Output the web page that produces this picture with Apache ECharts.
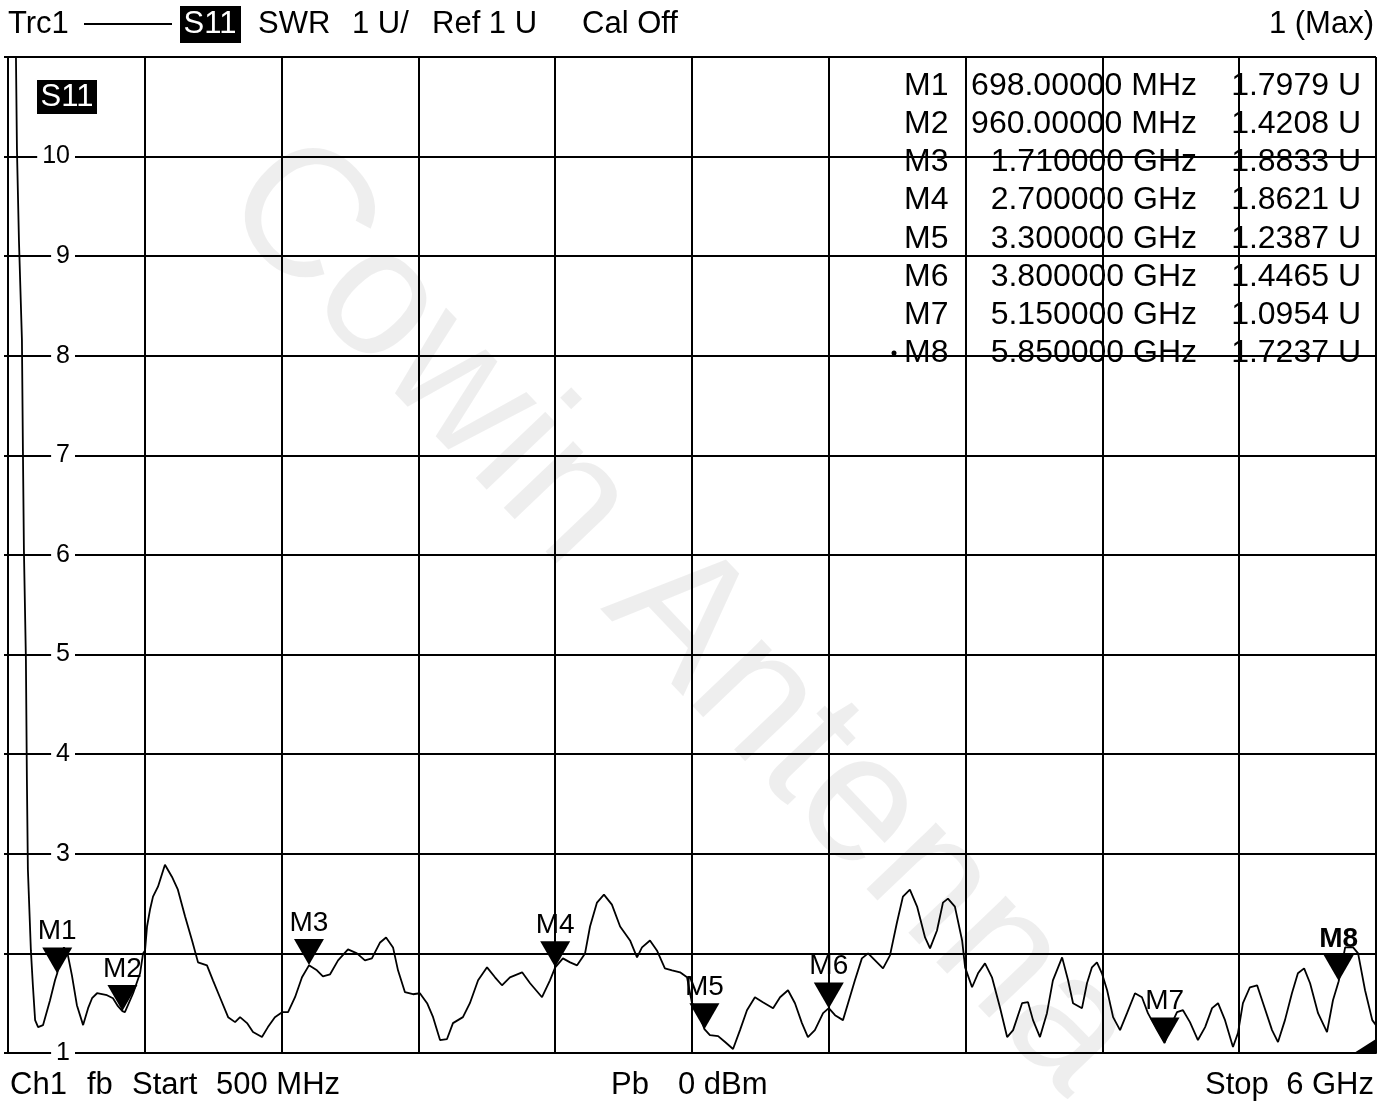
<!DOCTYPE html>
<html>
<head>
<meta charset="utf-8">
<title>S11 SWR</title>
<script src="https://cdn.jsdelivr.net/npm/echarts@6/dist/echarts.min.js"></script>
<style>
  html, body { margin: 0; padding: 0; background: #fff; }
  #chart { width: 1392px; height: 1104px; }
</style>
</head>
<body>
<div id="chart"></div>
<script>
// trace: [frequency MHz, SWR]
const s11Trace = [
  [524, 12.5], [532, 11.0], [536, 10.07], [544, 9.16], [556, 8.16], [560, 7.05], [564, 6.05], [572, 4.95],
  [576, 3.74], [580, 2.84], [592, 2.03], [600, 1.68], [609, 1.33], [621, 1.26], [641, 1.28], [669, 1.53],
  [689, 1.73], [698, 1.80], [709, 1.98], [725, 2.06], [741, 1.98], [757, 1.78], [777, 1.48], [802, 1.28],
  [822, 1.45], [838, 1.55], [858, 1.60], [898, 1.58], [922, 1.55], [942, 1.47], [960, 1.42], [970, 1.41],
  [1003, 1.60], [1031, 1.80], [1043, 2.00], [1051, 2.03], [1059, 2.27], [1071, 2.44], [1083, 2.57], [1103, 2.67],
  [1131, 2.89], [1159, 2.77], [1183, 2.64], [1212, 2.37], [1240, 2.13], [1264, 1.91], [1300, 1.88], [1324, 1.73],
  [1352, 1.56], [1385, 1.36], [1413, 1.31], [1433, 1.36], [1461, 1.30], [1485, 1.21], [1521, 1.16], [1545, 1.26],
  [1573, 1.36], [1602, 1.41], [1626, 1.41], [1654, 1.56], [1682, 1.76], [1710, 1.88], [1742, 1.83], [1766, 1.77],
  [1795, 1.79], [1827, 1.93], [1867, 2.04], [1903, 2.00], [1935, 1.93], [1963, 1.95], [1996, 2.11], [2020, 2.16],
  [2048, 2.06], [2068, 1.83], [2096, 1.61], [2128, 1.59], [2156, 1.60], [2185, 1.50], [2209, 1.36], [2237, 1.13],
  [2265, 1.14], [2289, 1.30], [2329, 1.36], [2357, 1.50], [2390, 1.73], [2426, 1.86], [2458, 1.76], [2486, 1.68],
  [2518, 1.76], [2567, 1.81], [2599, 1.70], [2647, 1.56], [2679, 1.73], [2700, 1.86], [2731, 1.95], [2760, 1.91],
  [2788, 1.88], [2820, 2.00], [2840, 2.27], [2868, 2.51], [2896, 2.59], [2928, 2.49], [2961, 2.27], [3001, 2.13],
  [3029, 1.96], [3049, 2.06], [3081, 2.13], [3109, 2.03], [3141, 1.85], [3170, 1.83], [3202, 1.81], [3230, 1.76],
  [3250, 1.50], [3274, 1.43], [3300, 1.24], [3322, 1.18], [3355, 1.17], [3383, 1.11], [3415, 1.04], [3443, 1.23],
  [3471, 1.43], [3503, 1.56], [3535, 1.51], [3576, 1.45], [3604, 1.56], [3636, 1.63], [3664, 1.50], [3692, 1.30],
  [3716, 1.16], [3744, 1.23], [3777, 1.40], [3800, 1.45], [3825, 1.38], [3857, 1.33], [3881, 1.53], [3905, 1.73],
  [3933, 1.95], [3958, 2.00], [3994, 1.91], [4018, 1.85], [4046, 1.98], [4074, 2.31], [4098, 2.57], [4126, 2.64],
  [4155, 2.47], [4187, 2.16], [4207, 2.05], [4235, 2.23], [4259, 2.51], [4279, 2.55], [4307, 2.47], [4336, 2.13],
  [4348, 1.86], [4376, 1.66], [4400, 1.80], [4428, 1.90], [4456, 1.76], [4488, 1.46], [4517, 1.16], [4541, 1.23],
  [4577, 1.50], [4601, 1.51], [4621, 1.33], [4649, 1.16], [4677, 1.40], [4701, 1.73], [4738, 1.96], [4762, 1.73],
  [4782, 1.50], [4818, 1.45], [4838, 1.70], [4858, 1.86], [4878, 1.91], [4898, 1.80], [4919, 1.63], [4943, 1.36],
  [4971, 1.23], [4999, 1.40], [5031, 1.60], [5059, 1.56], [5083, 1.40], [5120, 1.23], [5150, 1.10], [5172, 1.26],
  [5200, 1.41], [5224, 1.43], [5252, 1.31], [5284, 1.13], [5313, 1.26], [5341, 1.45], [5365, 1.50], [5393, 1.33],
  [5425, 1.06], [5445, 1.20], [5465, 1.50], [5493, 1.66], [5522, 1.68], [5546, 1.50], [5582, 1.23], [5606, 1.11],
  [5634, 1.33], [5662, 1.60], [5686, 1.80], [5711, 1.85], [5735, 1.70], [5767, 1.40], [5803, 1.21], [5827, 1.53],
  [5850, 1.72], [5876, 2.06], [5908, 2.06], [5928, 2.00], [5956, 1.63], [5985, 1.33], [6000, 1.28]
];

const markerNames = ['M1', 'M2', 'M3', 'M4', 'M5', 'M6', 'M7', 'M8'];
const markerFreqs = [698, 960, 1710, 2700, 3300, 3800, 5150, 5850];
const markerVals = [1.7979, 1.4208, 1.8833, 1.8621, 1.2387, 1.4465, 1.0954, 1.7237];

const FONT = 'Liberation Sans, Arial, sans-serif';

const chart = echarts.init(document.getElementById('chart'));

function txt(x, y, text, align, fill) {
  return {
    type: 'text',
    x: x,
    y: y,
    z: 10,
    style: {
      text: text,
      fill: fill || '#000',
      font: '31px ' + FONT,
      textAlign: align || 'left',
      textVerticalAlign: 'middle'
    }
  };
}

function freqLabel(f) {
  if (f < 1000) return f.toFixed(5) + ' MHz';
  return (f / 1000).toFixed(6) + ' GHz';
}

const graphics = [
  // watermark
  {
    type: 'text',
    x: 678, y: 618,
    rotation: -0.81,
    z: -5,
    silent: true,
    style: {
      text: 'Cowin Antenna',
      fill: 'rgba(0,0,0,0.065)',
      font: '182px ' + FONT,
      textAlign: 'center',
      textVerticalAlign: 'middle'
    }
  },
  // header
  txt(8, 24, 'Trc1'),
  { type: 'line', z: 10, shape: { x1: 84, y1: 24, x2: 172, y2: 24 }, style: { stroke: '#000', lineWidth: 2 } },
  { type: 'rect', z: 10, shape: { x: 180, y: 6, width: 61, height: 37 }, style: { fill: '#000' } },
  txt(210, 24, 'S11', 'center', '#fff'),
  txt(258, 24, 'SWR'),
  txt(352, 24, '1 U/'),
  txt(432, 24, 'Ref 1 U'),
  txt(582, 24, 'Cal Off'),
  txt(1374, 24, '1 (Max)', 'right'),
  // trace tag inside plot
  { type: 'rect', z: 10, shape: { x: 37, y: 80, width: 60, height: 34 }, style: { fill: '#000' } },
  txt(67, 97, 'S11', 'center', '#fff'),
  // footer
  txt(10, 1085, 'Ch1'),
  txt(87, 1085, 'fb'),
  txt(132, 1085, 'Start'),
  txt(216, 1085, '500 MHz'),
  txt(611, 1085, 'Pb'),
  txt(678, 1085, '0 dBm'),
  txt(1205, 1085, 'Stop'),
  txt(1374, 1085, '6 GHz', 'right'),
  // stop wedge
  { type: 'polygon', z: 10, shape: { points: [[1354, 1053], [1376, 1039], [1376, 1053]] }, style: { fill: '#000' } },
  // active marker dot
  { type: 'circle', z: 10, shape: { cx: 894, cy: 353, r: 2.5 }, style: { fill: '#000' } }
];

// marker table (behind grid lines like on the analyzer)
markerNames.forEach(function (name, i) {
  const y = 86 + i * 38.2;
  const st = { fill: '#000', font: '32px ' + FONT, textVerticalAlign: 'middle' };
  graphics.push({ type: 'text', x: 904, y: y, z: -1, style: Object.assign({ text: name, textAlign: 'left' }, st) });
  graphics.push({ type: 'text', x: 1197, y: y, z: -1, style: Object.assign({ text: freqLabel(markerFreqs[i]), textAlign: 'right' }, st) });
  graphics.push({ type: 'text', x: 1361, y: y, z: -1, style: Object.assign({ text: markerVals[i].toFixed(4) + ' U', textAlign: 'right' }, st) });
});

chart.setOption({
  backgroundColor: '#fff',
  animation: false,
  grid: { left: 8, right: 16, top: 57, bottom: 51, containLabel: false },
  xAxis: {
    type: 'value',
    min: 500,
    max: 6000,
    interval: 550,
    axisLine: { show: true, lineStyle: { color: '#000', width: 2 } },
    axisTick: { show: false },
    axisLabel: { show: false },
    splitLine: { show: true, lineStyle: { color: '#000', width: 2 } }
  },
  yAxis: {
    type: 'value',
    min: 1,
    max: 11,
    interval: 1,
    axisLine: { show: true, lineStyle: { color: '#000', width: 2 } },
    axisTick: { show: true, inside: false, length: 4, lineStyle: { color: '#000', width: 2 } },
    axisLabel: {
      inside: true,
      margin: 67,
      align: 'right',
      color: '#000',
      fontFamily: FONT,
      fontSize: 25,
      backgroundColor: '#fff',
      padding: [0, 5],
      formatter: function (v) { return (v === 2 || v === 11) ? '' : String(v); }
    },
    splitLine: { show: true, lineStyle: { color: '#000', width: 2 } }
  },
  graphic: graphics,
  series: [
    {
      name: 'S11',
      type: 'line',
      data: s11Trace,
      showSymbol: false,
      clip: true,
      lineStyle: { color: '#000', width: 1.8 },
      z: 3
    },
    {
      name: 'markers',
      type: 'scatter',
      symbol: 'triangle',
      symbolRotate: 180,
      symbolSize: [30, 26],
      symbolOffset: [0, -13],
      itemStyle: { color: '#000', opacity: 1 },
      z: 4,
      label: {
        show: true,
        position: 'top',
        distance: 2,
        color: '#000',
        fontFamily: FONT,
        fontSize: 28,
        formatter: function (p) { return p.name; }
      },
      data: markerNames.map(function (n, i) {
        const item = { name: n, value: [markerFreqs[i], markerVals[i]] };
        if (n === 'M8') item.label = { fontWeight: 'bold' };
        return item;
      })
    }
  ]
});
</script>
</body>
</html>
